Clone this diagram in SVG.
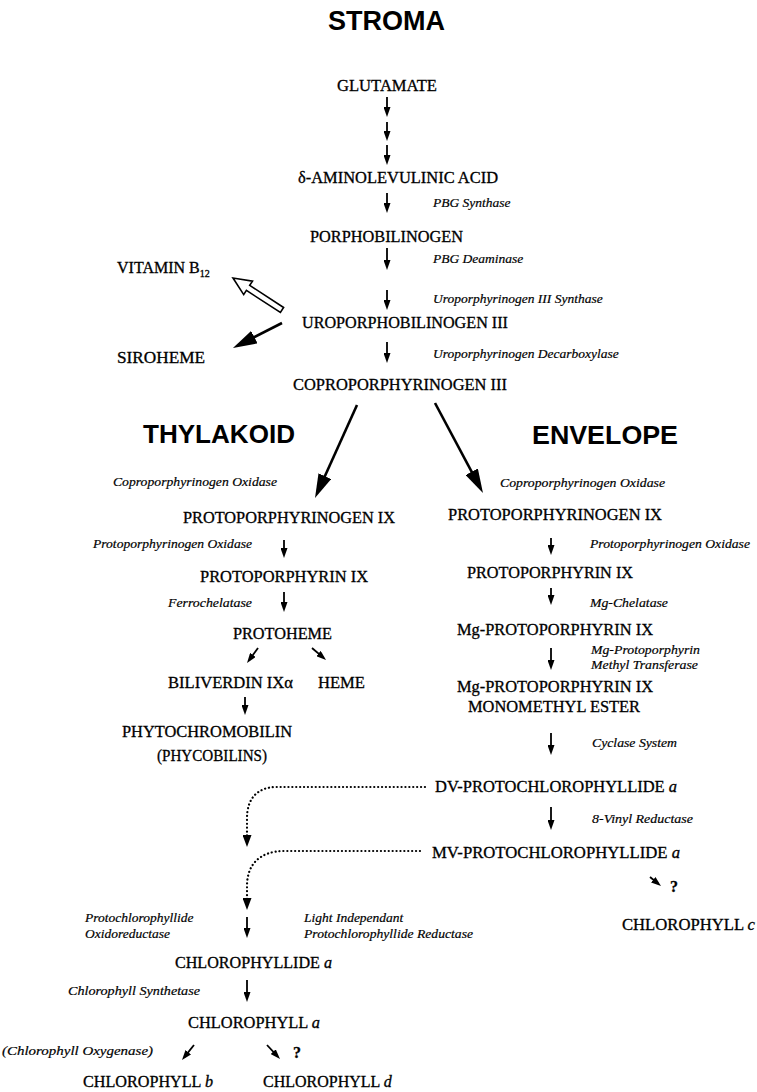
<svg xmlns="http://www.w3.org/2000/svg" width="757" height="1092" viewBox="0 0 757 1092">
<style>
.t{font-family:"Liberation Serif","Times New Roman",serif;font-size:16px;fill:#000;stroke:#000;stroke-width:0.3}
.e{font-family:"Liberation Serif","Times New Roman",serif;font-style:italic;font-size:13.5px;fill:#000;stroke:#000;stroke-width:0.2}
.h{font-family:"Liberation Sans",Arial,sans-serif;font-weight:bold;fill:#000}
.i{font-style:italic}
.a{stroke:#000;stroke-width:1.8;fill:none;marker-end:url(#sm)}
.b{stroke:#000;stroke-width:2.6;fill:none;marker-end:url(#big)}
.d{stroke:#000;stroke-width:2.2;stroke-dasharray:0.1 3.8;stroke-linecap:round;fill:none;marker-end:url(#dot)}
</style>
<defs>
<marker id="sm" markerUnits="userSpaceOnUse" markerWidth="10" markerHeight="7" viewBox="0 0 10 7" refX="6" refY="3.5" orient="auto"><path d="M0,0 L10,3.5 L0,7 Z" fill="#000" stroke="none"/></marker>
<marker id="big" markerUnits="userSpaceOnUse" markerWidth="24" markerHeight="14" viewBox="0 0 24 14" refX="16" refY="7" orient="auto"><path d="M0,0 L24,7 L0,14 Z" fill="#000" stroke="none"/></marker>
<marker id="dot" markerUnits="userSpaceOnUse" markerWidth="12" markerHeight="9" viewBox="0 0 12 9" refX="7" refY="4.5" orient="auto"><path d="M0,0 L12,4.5 L0,9 Z" fill="#000" stroke="none"/></marker>
</defs>
<rect width="757" height="1092" fill="#fff"/>

<g id="labels-compartments">
<text class="h" x="328" y="30" font-size="27" textLength="117" lengthAdjust="spacingAndGlyphs">STROMA</text>
<text class="h" x="143" y="443" font-size="26" textLength="152" lengthAdjust="spacingAndGlyphs">THYLAKOID</text>
<text class="h" x="532" y="444" font-size="26" textLength="146" lengthAdjust="spacingAndGlyphs">ENVELOPE</text>
</g>

<g id="glutamate"><text class="t" x="337" y="91" textLength="100" lengthAdjust="spacingAndGlyphs">GLUTAMATE</text></g>
<g id="ala"><text class="t" x="298" y="183" textLength="200" lengthAdjust="spacingAndGlyphs">δ-AMINOLEVULINIC ACID</text></g>
<g id="pbg"><text class="t" x="310" y="242" textLength="153" lengthAdjust="spacingAndGlyphs">PORPHOBILINOGEN</text></g>
<g id="vitb12"><text class="t" x="117" y="273">VITAMIN B<tspan font-size="10" dy="4">12</tspan></text></g>
<g id="urogen"><text class="t" x="302" y="328" textLength="206" lengthAdjust="spacingAndGlyphs">UROPORPHOBILINOGEN III</text></g>
<g id="siroheme"><text class="t" x="117" y="363" textLength="88" lengthAdjust="spacingAndGlyphs">SIROHEME</text></g>
<g id="coprogen"><text class="t" x="293" y="390" textLength="214" lengthAdjust="spacingAndGlyphs">COPROPORPHYRINOGEN III</text></g>

<g id="protogen-t"><text class="t" x="183" y="523" textLength="212" lengthAdjust="spacingAndGlyphs">PROTOPORPHYRINOGEN IX</text></g>
<g id="proto-t"><text class="t" x="200" y="582" textLength="168" lengthAdjust="spacingAndGlyphs">PROTOPORPHYRIN IX</text></g>
<g id="protoheme"><text class="t" x="233" y="639" textLength="99" lengthAdjust="spacingAndGlyphs">PROTOHEME</text></g>
<g id="biliverdin"><text class="t" x="168" y="688" textLength="125" lengthAdjust="spacingAndGlyphs">BILIVERDIN IXα</text></g>
<g id="heme"><text class="t" x="318" y="688" textLength="47" lengthAdjust="spacingAndGlyphs">HEME</text></g>
<g id="phytochromobilin">
<text class="t" x="122" y="737" textLength="170" lengthAdjust="spacingAndGlyphs">PHYTOCHROMOBILIN</text>
<text class="t" x="157" y="761" textLength="110" lengthAdjust="spacingAndGlyphs">(PHYCOBILINS)</text>
</g>

<g id="protogen-e"><text class="t" x="448" y="520" textLength="214" lengthAdjust="spacingAndGlyphs">PROTOPORPHYRINOGEN IX</text></g>
<g id="proto-e"><text class="t" x="467" y="578" textLength="166" lengthAdjust="spacingAndGlyphs">PROTOPORPHYRIN IX</text></g>
<g id="mgproto"><text class="t" x="457" y="635" textLength="196" lengthAdjust="spacingAndGlyphs">Mg-PROTOPORPHYRIN IX</text></g>
<g id="mgprotome">
<text class="t" x="457" y="692" textLength="196" lengthAdjust="spacingAndGlyphs">Mg-PROTOPORPHYRIN IX</text>
<text class="t" x="468" y="712" textLength="172" lengthAdjust="spacingAndGlyphs">MONOMETHYL ESTER</text>
</g>
<g id="dvpchlide"><text class="t" x="435" y="792" textLength="242" lengthAdjust="spacingAndGlyphs">DV-PROTOCHLOROPHYLLIDE <tspan class="i">a</tspan></text></g>
<g id="mvpchlide"><text class="t" x="432" y="858" textLength="248" lengthAdjust="spacingAndGlyphs">MV-PROTOCHLOROPHYLLIDE <tspan class="i">a</tspan></text></g>
<g id="chlc"><text class="t" x="622" y="930" textLength="133" lengthAdjust="spacingAndGlyphs">CHLOROPHYLL <tspan class="i">c</tspan></text></g>
<g id="chlidea"><text class="t" x="175" y="968" textLength="157" lengthAdjust="spacingAndGlyphs">CHLOROPHYLLIDE <tspan class="i">a</tspan></text></g>
<g id="chla"><text class="t" x="188" y="1028" textLength="132" lengthAdjust="spacingAndGlyphs">CHLOROPHYLL <tspan class="i">a</tspan></text></g>
<g id="chlb"><text class="t" x="83" y="1087" textLength="130" lengthAdjust="spacingAndGlyphs">CHLOROPHYLL <tspan class="i">b</tspan></text></g>
<g id="chld"><text class="t" x="263" y="1087" font-size="15.4">CHLOROPHYLL <tspan class="i">d</tspan></text></g>

<g id="enzymes">
<text class="e" x="433" y="207">PBG Synthase</text>
<text class="e" x="433" y="263">PBG Deaminase</text>
<text class="e" x="433" y="303">Uroporphyrinogen III Synthase</text>
<text class="e" x="433" y="358">Uroporphyrinogen Decarboxylase</text>
<text class="e" x="113" y="486" textLength="164" lengthAdjust="spacingAndGlyphs">Coproporphyrinogen Oxidase</text>
<text class="e" x="500" y="487" textLength="165" lengthAdjust="spacingAndGlyphs">Coproporphyrinogen Oxidase</text>
<text class="e" x="93" y="548" textLength="159" lengthAdjust="spacingAndGlyphs">Protoporphyrinogen Oxidase</text>
<text class="e" x="590" y="548" textLength="160" lengthAdjust="spacingAndGlyphs">Protoporphyrinogen Oxidase</text>
<text class="e" x="168" y="607" textLength="84" lengthAdjust="spacingAndGlyphs">Ferrochelatase</text>
<text class="e" x="590" y="607" textLength="78" lengthAdjust="spacingAndGlyphs">Mg-Chelatase</text>
<text class="e" x="591" y="654" textLength="109" lengthAdjust="spacingAndGlyphs">Mg-Protoporphyrin</text>
<text class="e" x="591" y="669" textLength="107" lengthAdjust="spacingAndGlyphs">Methyl Transferase</text>
<text class="e" x="592" y="747" textLength="85" lengthAdjust="spacingAndGlyphs">Cyclase System</text>
<text class="e" x="592" y="823" textLength="101" lengthAdjust="spacingAndGlyphs">8-Vinyl Reductase</text>
<text class="e" x="85" y="922">Protochlorophyllide</text>
<text class="e" x="85" y="938">Oxidoreductase</text>
<text class="e" x="304" y="922">Light Independant</text>
<text class="e" x="304" y="938" textLength="169" lengthAdjust="spacingAndGlyphs">Protochlorophyllide Reductase</text>
<text class="e" x="68" y="995" textLength="132" lengthAdjust="spacingAndGlyphs">Chlorophyll Synthetase</text>
<text class="e" x="2" y="1055" textLength="151" lengthAdjust="spacingAndGlyphs">(Chlorophyll Oxygenase)</text>
<text class="t" x="670" y="892" font-weight="bold">?</text>
<text class="t" x="293" y="1058" font-weight="bold">?</text>
</g>

<g id="connectors">
<line class="a" x1="387" y1="97" x2="387" y2="113"/>
<line class="a" x1="387" y1="122" x2="387" y2="137"/>
<line class="a" x1="387" y1="145" x2="387" y2="161"/>
<line class="a" x1="387" y1="193" x2="387" y2="209"/>
<line class="a" x1="387" y1="248" x2="387" y2="266"/>
<line class="a" x1="387" y1="290" x2="387" y2="306"/>
<line class="a" x1="387" y1="342" x2="387" y2="359"/>
<polygon points="283.6,307.5 249.7,285.3 252.5,281.2 233,278 243.7,294.6 246.4,290.4 280.4,312.5" fill="#fff" stroke="#000" stroke-width="1.6" stroke-linejoin="miter"/>
<line class="b" x1="282" y1="323" x2="240.1" y2="344.4"/>
<line class="b" x1="357" y1="405" x2="318.3" y2="490.7"/>
<line class="b" x1="435" y1="403" x2="479.2" y2="485.9"/>
<line class="a" x1="284" y1="540" x2="284" y2="554"/>
<line class="a" x1="284" y1="592" x2="284" y2="608"/>
<line class="a" x1="258" y1="648" x2="249.4" y2="659.8"/>
<line class="a" x1="312" y1="648" x2="323" y2="657.4"/>
<line class="a" x1="245" y1="697" x2="245" y2="711"/>
<line class="a" x1="551" y1="538" x2="551" y2="551"/>
<line class="a" x1="551" y1="588" x2="551" y2="601"/>
<line class="a" x1="551" y1="648" x2="551" y2="666"/>
<line class="a" x1="551" y1="733" x2="551" y2="751"/>
<line class="a" x1="551" y1="807" x2="551" y2="826"/>
<line class="a" x1="650" y1="877" x2="657.9" y2="883.5"/>
<path class="d" d="M425,787 L277,787 C256,787 247,800 247,818 L247,842"/>
<path class="d" d="M420,851 L285,851 C258,851 247,866 247,886 L247,905"/>
<line class="a" x1="247" y1="917" x2="247" y2="934"/>
<line class="a" x1="247" y1="980" x2="247" y2="998"/>
<line class="a" x1="194" y1="1045" x2="184.5" y2="1056.9"/>
<line class="a" x1="267" y1="1045" x2="277.3" y2="1056.1"/>
</g>
</svg>
